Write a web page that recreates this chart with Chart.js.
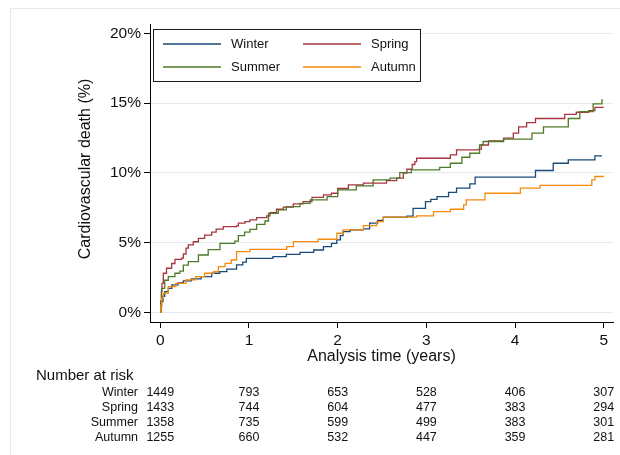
<!DOCTYPE html>
<html>
<head>
<meta charset="utf-8">
<script src="https://cdn.jsdelivr.net/npm/chart.js@4/dist/chart.umd.min.js"></script>
<style>
  html, body { margin: 0; padding: 0; background: #fff; }
  #wrap { width: 620px; height: 455px; }
</style>
</head>
<body>
<div id="wrap"><canvas id="km" width="620" height="455"></canvas></div>
<script>
// cumulative incidence steps, [years, %]
const winter = [[0,0],[0.005,0.4],[0.015,0.76],[0.03,1.15],[0.05,1.48],[0.09,1.72],[0.13,1.96],[0.2,2.1],[0.26,2.25],[0.35,2.4],[0.46,2.56],[0.58,2.8],[0.67,2.92],[0.75,3.1],[0.86,3.4],[0.93,3.6],[0.97,3.87],[1.27,4.0],[1.42,4.15],[1.575,4.3],[1.73,4.47],[1.84,4.71],[1.93,4.95],[1.99,5.19],[2.03,5.5],[2.06,5.79],[2.14,5.91],[2.29,5.99],[2.36,6.39],[2.45,6.6],[2.515,6.82],[2.78,6.9],[2.85,7.46],[2.99,7.94],[3.05,8.1],[3.12,8.3],[3.25,8.6],[3.34,8.9],[3.49,9.21],[3.55,9.69],[4.23,10.17],[4.43,10.69],[4.6,10.93],[4.9,11.22],[4.98,11.22]];
const spring = [[0,0],[0.005,0.8],[0.012,1.5],[0.019,2.08],[0.034,2.8],[0.07,3.16],[0.128,3.5],[0.165,3.8],[0.24,3.88],[0.26,4.18],[0.29,4.6],[0.316,4.83],[0.372,5.06],[0.43,5.3],[0.5,5.54],[0.58,5.75],[0.63,5.96],[0.71,6.15],[0.86,6.2],[0.88,6.39],[0.955,6.5],[1.01,6.63],[1.086,6.79],[1.2,6.91],[1.237,7.15],[1.31,7.39],[1.387,7.54],[1.5,7.78],[1.61,7.94],[1.71,8.25],[1.84,8.42],[1.93,8.54],[2.0,8.88],[2.12,9.14],[2.29,9.26],[2.55,9.45],[2.665,9.62],[2.74,9.98],[2.78,10.26],[2.84,10.6],[2.87,10.81],[2.89,11.05],[3.27,11.29],[3.34,11.65],[3.59,11.7],[3.62,12.0],[3.7,12.3],[3.87,12.49],[3.98,12.85],[4.04,13.3],[4.13,13.6],[4.23,13.9],[4.56,14.2],[4.69,14.35],[4.83,14.47],[4.9,14.7],[5.0,14.7]];
const summer = [[0,0],[0.006,0.8],[0.015,1.72],[0.05,2.3],[0.09,2.56],[0.165,2.8],[0.22,2.95],[0.26,3.39],[0.316,3.63],[0.43,4.11],[0.54,4.5],[0.673,4.95],[0.84,5.1],[0.88,5.5],[0.95,5.75],[1.01,5.95],[1.086,6.3],[1.18,6.55],[1.22,7.1],[1.33,7.34],[1.42,7.58],[1.575,7.82],[1.69,8.06],[1.88,8.3],[2.0,8.78],[2.21,9.07],[2.4,9.5],[2.59,9.62],[2.7,10.02],[2.83,10.21],[3.15,10.4],[3.27,10.69],[3.4,11.12],[3.49,11.41],[3.6,12.0],[3.64,12.25],[3.87,12.42],[4.19,12.85],[4.32,13.3],[4.6,13.9],[4.73,14.4],[4.88,14.95],[4.98,15.24],[4.99,15.24]];
const autumn = [[0,0],[0.006,0.5],[0.015,1.0],[0.034,1.36],[0.09,1.84],[0.175,2.08],[0.29,2.32],[0.4,2.56],[0.5,2.8],[0.6,2.92],[0.654,3.27],[0.73,3.51],[0.8,3.75],[0.86,4.35],[1.01,4.52],[1.425,4.71],[1.5,5.07],[1.78,5.24],[1.99,5.67],[2.06,5.91],[2.29,6.22],[2.44,6.51],[2.515,6.82],[2.89,6.91],[3.08,7.22],[3.27,7.39],[3.42,7.7],[3.45,8.06],[3.66,8.54],[4.06,8.9],[4.28,9.11],[4.865,9.5],[4.9,9.74],[5.0,9.74]];

const seasons = ['Winter', 'Spring', 'Summer', 'Autumn'];
const xTicks = [0, 1, 2, 3, 4, 5];
const yTicks = [0, 5, 10, 15, 20];
const yTickLabels = ['0%', '5%', '10%', '15%', '20%'];

// number at risk at each xTick
const riskWinter = [1449, 793, 653, 528, 406, 307];
const riskSpring = [1433, 744, 604, 477, 383, 294];
const riskSummer = [1358, 735, 599, 499, 383, 301];
const riskAutumn = [1255, 660, 532, 447, 359, 281];

const colors = ['#1a4a78', '#a8343f', '#4f7a28', '#f7890c'];
const FONT = '"Liberation Sans", Arial, Helvetica, sans-serif';

const series = [winter, spring, summer, autumn];
const risk = [riskWinter, riskSpring, riskSummer, riskAutumn];

// frame, legend, titles and risk table
const extras = {
  id: 'extras',
  beforeDraw(chart) {
    const ctx = chart.ctx;
    ctx.save();
    ctx.strokeStyle = '#e2ecee';
    ctx.lineWidth = 1;
    ctx.strokeRect(10.5, 8.5, 700, 500);
    ctx.restore();
  },
  afterDraw(chart) {
    const ctx = chart.ctx;
    const area = chart.chartArea;
    const xs = chart.scales.x;
    ctx.save();

    // legend box
    ctx.fillStyle = '#fff';
    ctx.fillRect(153.5, 29.5, 267, 52);
    ctx.strokeStyle = '#1a1a1a';
    ctx.lineWidth = 1;
    ctx.strokeRect(153.5, 29.5, 267, 52);
    ctx.font = '13px ' + FONT;
    ctx.textBaseline = 'middle';
    ctx.textAlign = 'left';
    chart.data.datasets.forEach((ds, i) => {
      const col = i % 2, row = Math.floor(i / 2);
      const lx = col ? 303 : 163;
      const ly = row ? 67 : 44;
      ctx.strokeStyle = ds.borderColor;
      ctx.lineWidth = 1.3;
      ctx.beginPath();
      ctx.moveTo(lx, ly);
      ctx.lineTo(lx + 58, ly);
      ctx.stroke();
      ctx.fillStyle = '#111';
      ctx.fillText(ds.label, lx + 68, ly + 0.5);
    });

    // axis titles
    ctx.fillStyle = '#111';
    ctx.font = '16px ' + FONT;
    ctx.textAlign = 'center';
    ctx.fillText('Analysis time (years)', (area.left + area.right) / 2, 357);
    ctx.save();
    ctx.translate(86, (area.top + area.bottom) / 2 - 4);
    ctx.rotate(-Math.PI / 2);
    ctx.fillText('Cardiovascular death (%)', 0, 0);
    ctx.restore();

    // number at risk
    ctx.font = '15px ' + FONT;
    ctx.textAlign = 'left';
    ctx.fillText('Number at risk', 36, 376);
    ctx.font = '12.5px ' + FONT;
    seasons.forEach((name, r) => {
      const y = 392.5 + r * 15;
      ctx.textAlign = 'right';
      ctx.fillText(name, 138, y);
      ctx.textAlign = 'center';
      risk[r].forEach((n, k) => ctx.fillText(String(n), xs.getPixelForValue(xTicks[k]), y));
    });
    ctx.restore();
  }
};

new Chart(document.getElementById('km'), {
  type: 'line',
  data: {
    datasets: seasons.map((name, i) => ({
      label: name,
      data: series[i],
      borderColor: colors[i],
      backgroundColor: colors[i],
      borderWidth: 1.3,
      stepped: 'before',
      pointRadius: 0,
      fill: false,
      order: 3 - i
    }))
  },
  options: {
    responsive: false,
    animation: false,
    layout: { padding: { left: 0, top: 24, right: 7, bottom: 0 } },
    plugins: { legend: { display: false }, tooltip: { enabled: false } },
    scales: {
      x: {
        type: 'linear',
        min: -0.116,
        max: 5.104,
        afterFit: s => { s.height = 133; },
        afterBuildTicks: s => { s.ticks = xTicks.map(v => ({ value: v })); },
        border: { color: '#000', width: 1 },
        grid: { drawOnChartArea: false, tickLength: 6, tickColor: '#000' },
        ticks: { color: '#111', padding: 3, maxRotation: 0, font: { family: FONT, size: 15.5 } }
      },
      y: {
        type: 'linear',
        min: -0.696,
        max: 20.68,
        afterFit: s => { s.width = 150; },
        afterBuildTicks: s => { s.ticks = yTicks.map(v => ({ value: v })); },
        border: { color: '#000', width: 1 },
        grid: { color: '#e1ebec', lineWidth: 1, tickLength: 6, tickColor: '#000' },
        ticks: {
          color: '#111', padding: 3,
          font: { family: FONT, size: 15.5 },
          callback: v => yTickLabels[yTicks.indexOf(v)]
        }
      }
    }
  },
  plugins: [extras]
});
</script>
</body>
</html>
